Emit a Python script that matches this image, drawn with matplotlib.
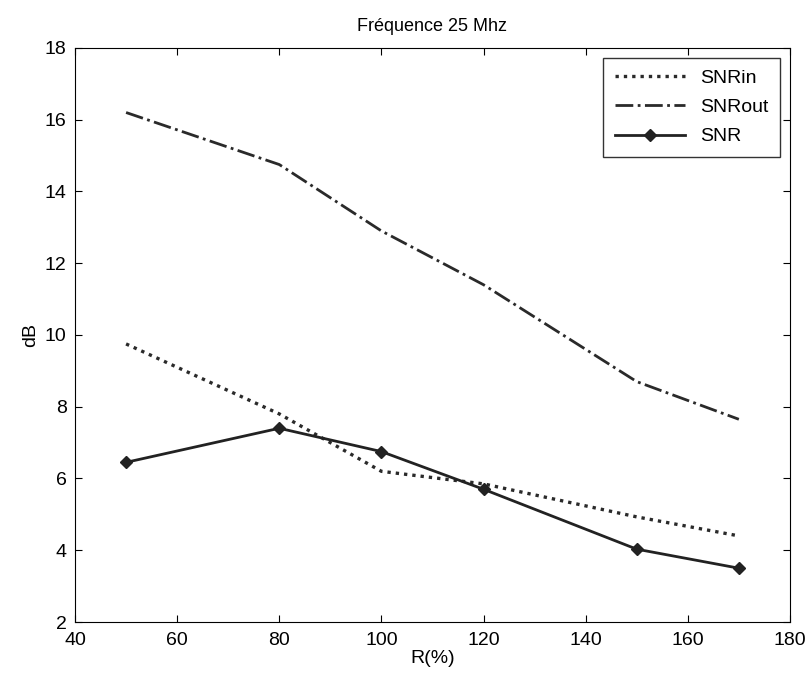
import matplotlib.pyplot as plt

plt.rcParams['font.family'] = ['Liberation Sans', 'DejaVu Sans']

# R(%) values and the three curves (dB)
R = [50, 80, 100, 120, 150, 170]
snr_in = [9.75, 7.8, 6.2, 5.85, 4.93, 4.4]
snr_out = [16.2, 14.75, 12.9, 11.4, 8.7, 7.65]
snr = [6.45, 7.4, 6.75, 5.7, 4.03, 3.5]

fig = plt.figure(figsize=(8.11, 6.75), dpi=100)
ax = fig.add_axes([0.0925, 0.0785, 0.8815, 0.8505])

ax.plot(R, snr_in, color='#2a2a2a', linestyle=(0, (1, 1.5)), linewidth=2.4, label='SNRin')
ax.plot(R, snr_out, color='#2a2a2a', linestyle='-.', linewidth=2.0, label='SNRout')
ax.plot(R, snr, color='#222222', linestyle='-', linewidth=2.0,
        marker='D', markersize=6, label='SNR')

ax.set_xlim(40, 180)
ax.set_ylim(2, 18)
ax.set_xticks(range(40, 181, 20))
ax.set_yticks(range(2, 19, 2))
ax.tick_params(direction='in', labelsize=14, top=True, right=True, length=5)
ax.tick_params(axis='x', pad=7)
ax.tick_params(axis='y', pad=6)
ax.set_xlabel('R(%)', fontsize=14, labelpad=1)
ax.set_ylabel('dB', fontsize=14)
ax.set_title('Fréquence 25 Mhz', fontsize=13, pad=12)

leg = ax.legend(loc='upper right', fontsize=14, fancybox=False,
                edgecolor='#333333', framealpha=1, handlelength=3.6,
                borderpad=0.6, labelspacing=0.6)
leg.get_frame().set_linewidth(1.0)

fig.savefig('out.png', dpi=100)
